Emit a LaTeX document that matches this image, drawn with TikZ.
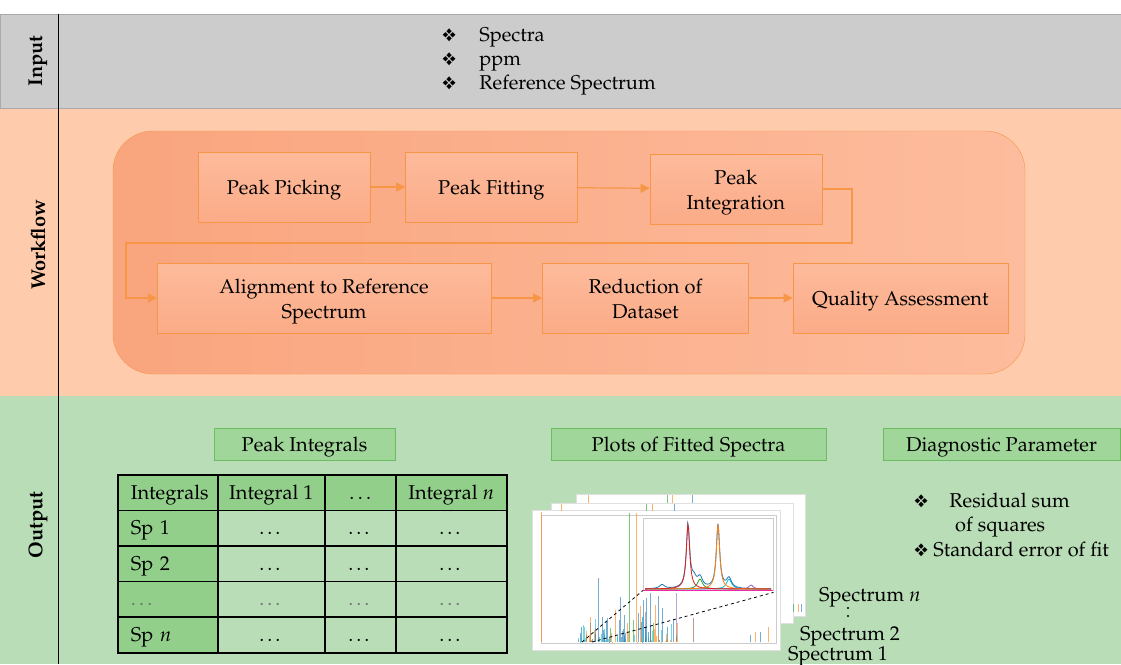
\documentclass[tikz,border=0pt]{standalone}
\usepackage[T1]{fontenc}
\usepackage{mathpazo}
\usepackage{pifont}
\usetikzlibrary{arrows.meta,positioning}

\definecolor{inputgray}{RGB}{204,204,204}
\definecolor{inputline}{RGB}{170,170,170}
\definecolor{wfband}{RGB}{254,204,172}
\definecolor{wforange}{RGB}{247,150,70}
\definecolor{wfdark}{RGB}{249,165,126}
\definecolor{wflight}{RGB}{253,188,157}
\definecolor{boxtop}{RGB}{253,187,156}
\definecolor{boxbot}{RGB}{251,171,135}
\definecolor{outband}{RGB}{185,221,182}
\definecolor{hdfill}{RGB}{160,214,153}
\definecolor{hdline}{RGB}{106,190,96}
\definecolor{celldark}{RGB}{146,207,139}
\definecolor{spblue}{RGB}{31,119,180}
\definecolor{sporange}{RGB}{255,127,14}
\definecolor{spgreen}{RGB}{44,160,44}
\definecolor{sppurple}{RGB}{148,103,189}
\definecolor{spbrown}{RGB}{140,86,75}
\definecolor{spcyan}{RGB}{23,190,207}
\definecolor{spred}{RGB}{230,30,30}
\definecolor{spmagenta}{RGB}{240,40,170}

\tikzstyle{bandlabel}=[rotate=90,inner sep=0pt,font=\fontsize{20}{24}\selectfont\bfseries]
\tikzstyle{wfbox}=[rectangle,draw=wforange,thin,top color=boxtop,bottom color=boxbot,minimum height=70pt,inner sep=0pt,align=center]
\tikzstyle{flow}=[-{Triangle[length=9pt,width=9pt]},color=wforange,line width=1.2pt]
\tikzstyle{outhead}=[rectangle,draw=hdline,thick,fill=hdfill,minimum height=32pt,inner sep=0pt]
\tikzstyle{cell}=[rectangle,draw=black,line width=1.6pt,minimum height=35.6pt,inner sep=0pt,text height=17pt,text depth=4pt,anchor=north west]
\tikzstyle{bullet}=[anchor=base west,inner sep=0pt]
\tikzstyle{sheet}=[rectangle,draw=black!12,fill=white,inner sep=0pt,anchor=north west]
\tikzstyle{spline}=[line width=0.8pt,opacity=0.6]

\newcommand{\dia}{{\fontsize{18}{18}\selectfont\ding{118}}}
\newcommand{\tp}{\rule{0pt}{21pt}}
\newcommand{\bt}{\rule[-6pt]{0pt}{6pt}}

\begin{document}
\begin{tikzpicture}[x=1pt,y=-1pt,font=\fontsize{20}{25}\selectfont]
  \useasboundingbox (0,0) rectangle (1121,664);

  % Baender
  \fill[outband] (0,396) rectangle (1121,664);
  \fill[wfband] (0,108) rectangle (1121,396);
  \draw[inputline,fill=inputgray] (0,14) rectangle (1121,108);
  \draw (58,14) -- (58,664);

  \node[bandlabel] (lblin) at (38,61) {Input};
  \node[bandlabel] (lblwf) at (38,245) {Workflow};
  \node[bandlabel] (lblout) at (38,525) {Output};

  % Input
  \foreach \txt [count=\i] in {Spectra, ppm, Reference Spectrum}
    \node[bullet] (in\i) at (442,17+24*\i) {\dia\hspace{23pt}\txt};

  % Workflow
  \draw[wforange,rounded corners=40pt,left color=wfdark,right color=wflight] (113,131) rectangle (1025,374);

  \node[wfbox,minimum width=172pt] (pick) at (284,187) {\tp Peak Picking\bt};
  \node[wfbox,minimum width=172pt] (fit) [right=35pt of pick] {\tp Peak Fitting\bt};
  \node[wfbox,minimum width=172pt,yshift=-2pt] (integ) [right=72pt of fit] {\tp Peak\\Integration\bt};
  \node[wfbox,minimum width=334pt] (align) at (324,298) {\tp Alignment to Reference\\Spectrum\bt};
  \node[wfbox,minimum width=206pt] (reduce) [right=51pt of align] {\tp Reduction of\\Dataset\bt};
  \node[wfbox,minimum width=215pt] (quality) [right=44pt of reduce] {\tp Quality Assessment\bt};

  \coordinate (turn) at (126,243);
  \draw[flow] (pick) -- (fit);
  \draw[flow] (fit) -- (integ);
  \draw[flow] (integ.east) -- ++(30,0) |- (turn) |- (align.west);
  \draw[flow] (align) -- (reduce);
  \draw[flow] (reduce) -- (quality);

  % Output
  \node[outhead,minimum width=181pt] (hdint) at (304.5,444) {\tp Peak Integrals\bt};
  \node[outhead,minimum width=275pt] (hdplot) at (688.5,444) {\tp Plots of Fitted Spectra\bt};
  \node[outhead,minimum width=237pt] (hddiag) at (1001.5,444) {\tp Diagnostic Parameter\bt};

  % Tabelle
  \node[cell,fill=celldark,text width=74pt,inner xsep=13pt,align=left] (c-0-1) at (117,474) {Integrals};
  \foreach \cx/\cw/\txt [count=\c from 2] in {217/107/Integral 1, 324/71/{.\,.\,.}, 395/111/{Integral $n$}}
    \node[cell,fill=celldark,minimum width=\cw pt] (c-0-\c) at (\cx,474) {\txt};
  \foreach \r/\lbl/\col in {1/Sp 1/black, 2/Sp 2/black, 3/{.\,.\,.}/black!55, 4/{Sp $n$}/black} {
    \pgfmathsetmacro\ry{474+35.6*\r}
    \node[cell,fill=celldark,text width=74pt,inner xsep=13pt,align=left,text=\col] (c-\r-1) at (117,\ry) {\lbl};
    \foreach \cx/\cw [count=\c from 2] in {217/107, 324/71, 395/111}
      \node[cell,fill=outband,minimum width=\cw pt,text=\col] (c-\r-\c) at (\cx,\ry) {\dots};
  }

  % Spektren
  \node[sheet,minimum width=229pt,minimum height=122pt] (sheet3) at (576,494) {};
  \node[sheet,minimum width=242pt,minimum height=120pt] (sheet2) at (551,503) {};
  \node[sheet,minimum width=248pt,minimum height=140pt] (sheet1) at (532,510) {};
  \foreach \sx/\scol in {588/sporange, 667/spgreen, 672/sporange, 692/spblue}
    \draw[spline,\scol] (\sx,495) -- (\sx,503);
  \foreach \sx/\scol in {561/sporange, 646/spgreen, 652/sporange, 674/spblue}
    \draw[spline,\scol] (\sx,504) -- (\sx,511);
  \foreach \sx/\scol in {793/spgreen, 798/sporange, 801/spblue}
    \draw[spline,\scol] (\sx,604) -- (\sx,612);
  \draw[black!20] (541,515) rectangle (776,643);
  \foreach \sx/\sy/\scol in {541/512/sporange, 598/578/spblue, 629/513/spgreen, 636/513/sporange,
      620/597/spblue, 615/610/sporange, 650/593/spblue, 658/596/spblue, 676/593/sppurple,
      693/618/spbrown, 643/600/spblue, 655/605/sporange, 580/633/spblue, 768/627/sporange,
      760/632/spblue, 755/632/sporange, 750/635/spblue, 633/620/spgreen, 638/613/spblue,
      627/623/sporange, 667/627/spblue, 653/623/spgreen, 645/612/sppurple, 610/628/spgreen,
      646/598/spblue, 640/606/sporange, 662/608/spblue, 624/615/spblue}
    \draw[spline,\scol] (\sx,642) -- (\sx,\sy);
  \pgfmathsetseed{7}
  \foreach \i in {1,...,90} {
    \pgfmathsetmacro\nx{578+rnd*100}
    \pgfmathsetmacro\ny{642-rnd*rnd*34}
    \pgfmathtruncatemacro\pick{mod(\i,3)}
    \ifnum\pick=0 \def\ncol{spblue}\else\ifnum\pick=1 \def\ncol{sporange}\else\def\ncol{spcyan}\fi\fi
    \draw[spline,\ncol] (\nx,642) -- (\nx,\ny);
  }

  \node[sheet,draw=black!20,minimum width=130pt,minimum height=72pt] (inset) at (643,518) {};
  \draw[spcyan,thick] plot[domain=645:771,samples=120] (\x,{589-10/(1+((\x-729)/3)^2)});
  \draw[spgreen,thick] plot[domain=645:771,samples=120] (\x,{589-10/(1+((\x-700)/3)^2)});
  \draw[sppurple,thick] plot[domain=645:771,samples=120] (\x,{589-4/(1+((\x-751)/2.5)^2)});
  \draw[spblue,thick] plot[domain=645:771,samples=160]
    (\x,{589-64/(1+((\x-688)/2)^2)-64/(1+((\x-718)/2)^2)-8/(1+((\x-694)/3)^2)-10/(1+((\x-700)/3)^2)-10/(1+((\x-729)/3)^2)-4/(1+((\x-662)/3)^2)});
  \draw[sporange,thick] plot[domain=645:771,samples=160] (\x,{589-65/(1+((\x-718)/2)^2)});
  \draw[spred,thick] plot[domain=645:771,samples=160] (\x,{589-65/(1+((\x-688)/2)^2)});
  \draw[spmagenta,line width=1.3pt] (inset.south west) -- (inset.south east);

  \coordinate (zoomA) at (582,642);
  \coordinate (zoomB) at (592,642);
  \draw[dashed,thick] (zoomA) -- (inset.south west);
  \draw[dashed,thick] (zoomB) -- ([yshift=-2pt]inset.south east);

  \node (spn) at (870,597) {Spectrum $n$};
  \node[circle,fill=black,inner sep=0pt,minimum size=2.2pt] (dotA) at (848,608) {};
  \node[circle,fill=black,inner sep=0pt,minimum size=2.2pt] (dotB) at (848,616) {};
  \node (sp2) at (850,636) {Spectrum 2};
  \node (sp1) at (838,656) {Spectrum 1};

  % Diagnose
  \node[bullet] (diag1) at (914,507) {\dia\hspace{21pt}Residual sum};
  \node[bullet] (diag2) at (955,531) {of squares};
  \node[bullet] (diag3) at (914,556) {\dia\ Standard error of fit};
\end{tikzpicture}
\end{document}
